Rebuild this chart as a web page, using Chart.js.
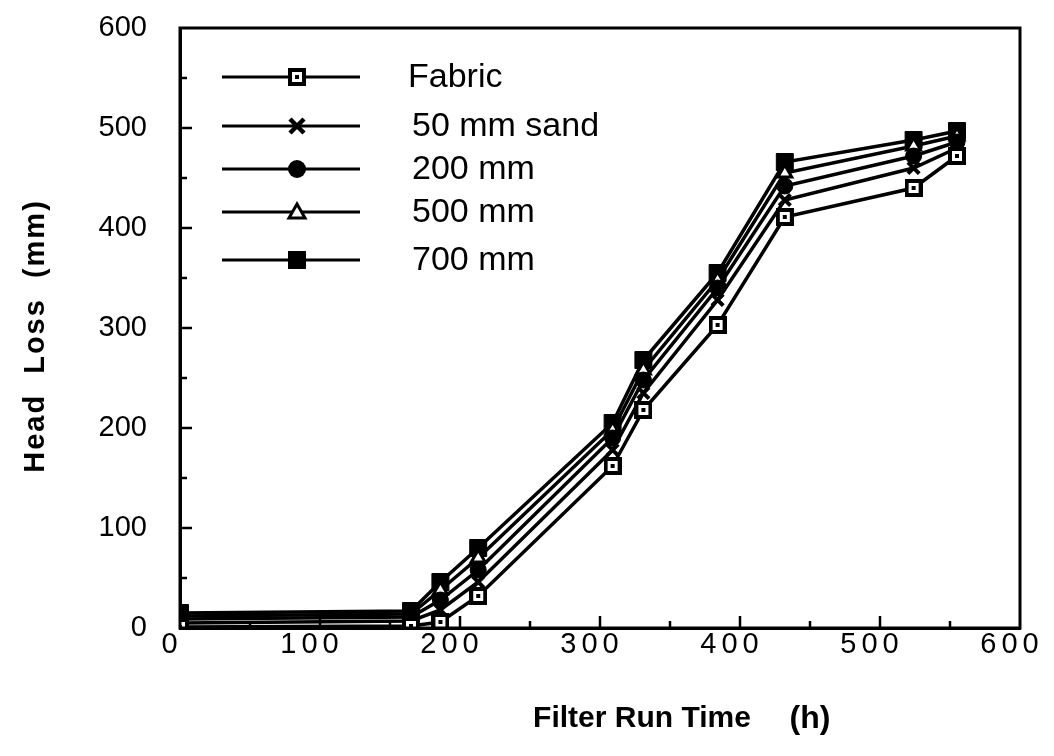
<!DOCTYPE html>
<html>
<head>
<meta charset="utf-8">
<script src="https://cdn.jsdelivr.net/npm/chart.js@4.4.0/dist/chart.umd.min.js"></script>
<style>
  html, body { margin: 0; padding: 0; background: #fff; }
  #wrap { width: 1054px; height: 756px; }
</style>
</head>
<body>
<div id="wrap"><canvas id="c" width="1054" height="756"></canvas></div>
<script>
// ---- data ----
const runTime = [0, 165, 186, 213, 309, 331, 384, 432, 524, 555];
const fabric   = [1, 2, 6, 32, 162, 218, 303, 411, 440, 472];
const sand50   = [5, 7, 18, 46, 178, 235, 328, 428, 460, 480];
const mm200    = [9, 11, 28, 58, 190, 248, 340, 442, 472, 486];
const mm500    = [12, 14, 38, 70, 198, 258, 348, 455, 482, 492];
const mm700    = [15, 17, 46, 80, 205, 268, 355, 466, 488, 497];
const seriesNames = ['Fabric', '50 mm sand', '200 mm', '500 mm', '700 mm'];
const xTicks = [0, 100, 200, 300, 400, 500, 600];
const yTicks = [0, 100, 200, 300, 400, 500, 600];

const FONT = '"Liberation Sans", Arial, Helvetica, sans-serif';
const NARROW = '"Liberation Sans Narrow", "Arial Narrow", "Liberation Sans", sans-serif';

// custom marker for Fabric: open square with a dot
function fabricMarker() {
  const c = document.createElement('canvas');
  c.width = 18; c.height = 18;
  const g = c.getContext('2d');
  g.fillStyle = '#000'; g.fillRect(0, 0, 18, 18);
  g.fillStyle = '#fff'; g.fillRect(4, 4, 10, 10);
  g.fillStyle = '#000'; g.fillRect(7, 7, 4, 4);
  return c;
}
const fabImg = fabricMarker();

function pts(ys) { return runTime.map((x, i) => ({x: x, y: ys[i]})); }

const styles = [
  {pointStyle: fabImg, radius: 9, bg: '#fff', bw: 0},
  {pointStyle: 'crossRot', radius: 8, bg: '#000', bw: 4},
  {pointStyle: 'circle', radius: 8, bg: '#000', bw: 1},
  {pointStyle: 'triangle', radius: 8, bg: '#fff', bw: 3},
  {pointStyle: 'rect', radius: 12, bg: '#000', bw: 1}
];
const allY = [fabric, sand50, mm200, mm500, mm700];

const datasets = allY.map((ys, i) => ({
  label: seriesNames[i],
  data: pts(ys),
  showLine: true,
  borderColor: '#000',
  borderWidth: 3.5,
  pointStyle: styles[i].pointStyle,
  pointRadius: styles[i].radius,
  pointBackgroundColor: styles[i].bg,
  pointBorderColor: '#000',
  pointBorderWidth: styles[i].bw,
  tension: 0
}));

function patchLabels(scale, spacing, dx) {
  if (scale._patched) return;
  const orig = scale.drawLabels;
  scale.drawLabels = function (a) {
    const c = this.ctx;
    c.save();
    c.letterSpacing = spacing;
    c.translate(dx, 0);
    orig.call(this, a);
    c.restore();
  };
  scale._patched = true;
}

const decor = {
  id: 'decor',
  beforeDraw(chart) {
    patchLabels(chart.scales.x, '5px', -8);
    patchLabels(chart.scales.y, '0px', -33);
  },
  afterDraw(chart) {
    const ctx = chart.ctx;
    const a = chart.chartArea;
    const xs = chart.scales.x, ys = chart.scales.y;
    ctx.save();
    // frame
    ctx.strokeStyle = '#000';
    ctx.lineWidth = 3;
    ctx.strokeRect(a.left, a.top, a.right - a.left, a.bottom - a.top);
    // inward ticks
    ctx.lineWidth = 2.5;
    for (let v = 50; v < 600; v += 50) {
      const len = (v % 100 === 0) ? 12 : 7;
      const px = xs.getPixelForValue(v);
      ctx.beginPath(); ctx.moveTo(px, a.bottom); ctx.lineTo(px, a.bottom - len); ctx.stroke();
      const py = ys.getPixelForValue(v);
      ctx.beginPath(); ctx.moveTo(a.left, py); ctx.lineTo(a.left + len, py); ctx.stroke();
    }
    // legend
    const rows = [77, 126, 169, 212, 260];
    ctx.font = '34px ' + FONT;
    ctx.textBaseline = 'middle';
    ctx.textAlign = 'left';
    rows.forEach((ry, i) => {
      ctx.strokeStyle = '#000';
      ctx.lineWidth = 3;
      ctx.beginPath(); ctx.moveTo(222, ry); ctx.lineTo(360, ry); ctx.stroke();
      const mx = 297;
      ctx.fillStyle = '#000';
      if (i === 0) {
        ctx.drawImage(fabImg, mx - 9, ry - 9);
      } else if (i === 1) {
        ctx.lineWidth = 4.5;
        ctx.beginPath();
        ctx.moveTo(mx - 7, ry - 7); ctx.lineTo(mx + 7, ry + 7);
        ctx.moveTo(mx + 7, ry - 7); ctx.lineTo(mx - 7, ry + 7);
        ctx.stroke();
      } else if (i === 2) {
        ctx.beginPath(); ctx.arc(mx, ry, 9, 0, Math.PI * 2); ctx.fill();
      } else if (i === 3) {
        ctx.fillStyle = '#fff';
        ctx.lineWidth = 3;
        ctx.beginPath();
        ctx.moveTo(mx, ry - 8); ctx.lineTo(mx + 8, ry + 6); ctx.lineTo(mx - 8, ry + 6); ctx.closePath();
        ctx.fill(); ctx.stroke();
      } else {
        ctx.fillRect(mx - 9, ry - 9, 18, 18);
      }
      ctx.fillStyle = '#000';
      ctx.fillText(seriesNames[i], i === 0 ? 408 : 412, ry + 1);
    });
    // axis titles
    ctx.font = 'bold 30px ' + NARROW;
    ctx.textAlign = 'center';
    ctx.textBaseline = 'middle';
    ctx.fillText('Filter Run Time', 642, 719);
    ctx.font = 'bold 32px ' + NARROW;
    ctx.fillText('(h)', 810, 719);
    ctx.save();
    ctx.translate(36, 336);
    ctx.rotate(-Math.PI / 2);
    ctx.font = 'bold 29px ' + FONT;
    ctx.letterSpacing = '2px';
    ctx.wordSpacing = '10px';
    ctx.fillText('Head Loss (mm)', 0, 0);
    ctx.restore();
    ctx.restore();
  }
};

new Chart(document.getElementById('c'), {
  type: 'scatter',
  data: { datasets: datasets },
  options: {
    responsive: false,
    animation: false,
    devicePixelRatio: 1,
    layout: { padding: { top: 28, right: 34, left: 0, bottom: 0 } },
    plugins: { legend: { display: false }, tooltip: { enabled: false } },
    scales: {
      x: {
        type: 'linear', min: 0, max: 600,
        afterFit(s) { s.height = 128; },
        afterBuildTicks(s) { s.ticks = xTicks.map(v => ({value: v})); },
        grid: { display: false, drawTicks: false },
        border: { display: true, color: '#000', width: 3 },
        ticks: { color: '#000', font: { family: FONT, size: 29 }, padding: 0, maxRotation: 0 }
      },
      y: {
        type: 'linear', min: 0, max: 600,
        afterFit(s) { s.width = 180; },
        afterBuildTicks(s) { s.ticks = yTicks.map(v => ({value: v})); },
        grid: { display: false, drawTicks: false },
        border: { display: true, color: '#000', width: 3 },
        ticks: { color: '#000', font: { family: FONT, size: 29 }, padding: 0 }
      }
    }
  },
  plugins: [decor]
});
</script>
</body>
</html>
